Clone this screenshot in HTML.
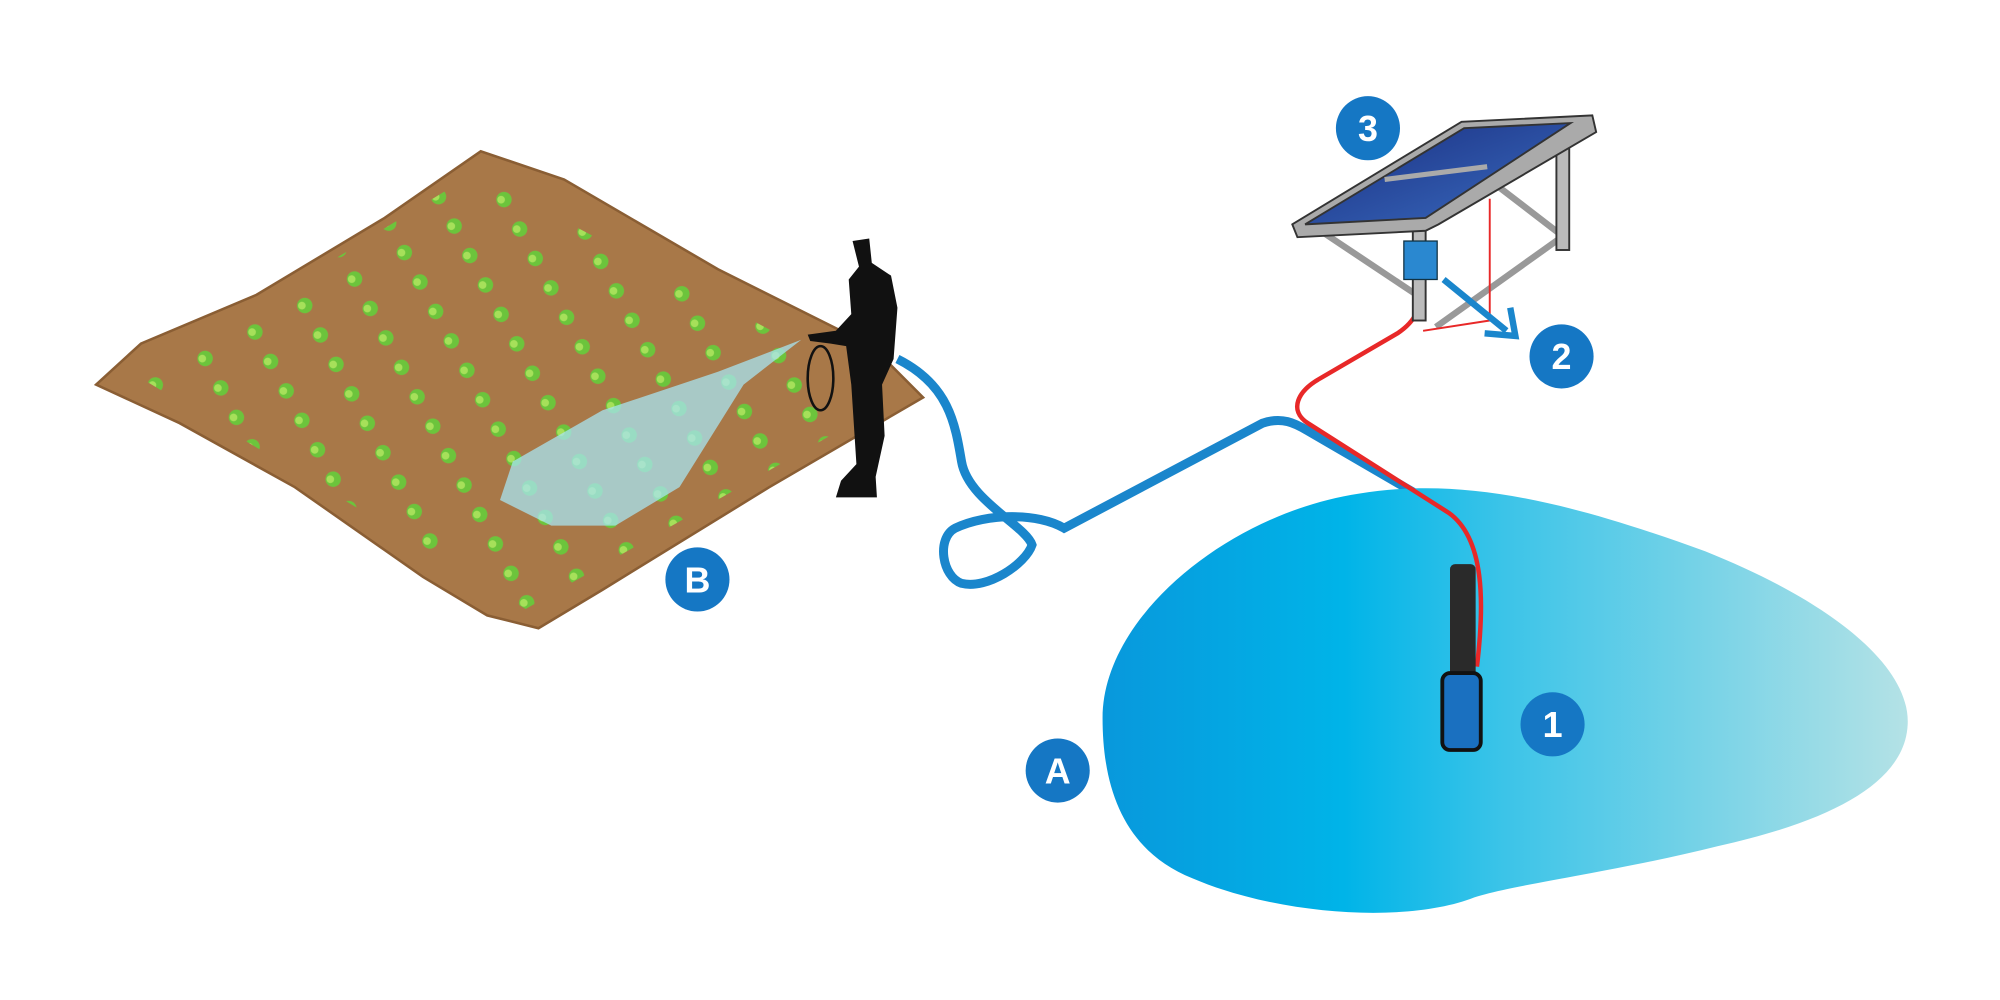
<!DOCTYPE html>
<html><head><meta charset="utf-8"><style>
html,body{margin:0;padding:0;background:#fff;width:2000px;height:1000px;overflow:hidden}
svg{display:block}
text{font-family:"Liberation Sans",sans-serif;font-weight:bold;fill:#fff;text-anchor:middle}
</style></head><body>
<svg width="2000" height="1000" viewBox="0 0 1560 780" xmlns="http://www.w3.org/2000/svg">
<defs>
<linearGradient id="pond" x1="0" x2="1" y1="0" y2="0">
<stop offset="0" stop-color="#0898dc"/><stop offset="0.3" stop-color="#00b4e8"/>
<stop offset="0.5" stop-color="#3cc4e8"/><stop offset="1" stop-color="#b4e2e6"/></linearGradient>
<linearGradient id="pan" x1="0" x2="1" y1="0" y2="1"><stop offset="0" stop-color="#1a2e80"/><stop offset="1" stop-color="#3a6cc0"/></linearGradient>
<pattern id="plants" x="0" y="0" width="44" height="26" patternUnits="userSpaceOnUse" patternTransform="rotate(-28)">
<circle cx="10" cy="10" r="6" fill="#6cc43c"/><circle cx="8" cy="9" r="3" fill="#a6e05a"/></pattern>
</defs>
<!-- field -->
<path d="M75,300 L110,268 L200,230 L300,170 L375,118 L440,140 L560,210 L680,270 L720,310 L600,380 L470,460 L420,490 L380,480 L330,450 L230,380 L140,330 Z" fill="#a87848" stroke="#8a5e34" stroke-width="2"/>
<path d="M110,295 L370,135 L700,310 L410,475 Z" fill="url(#plants)"/>
<!-- spray -->
<path d="M625,265 L560,290 L470,320 L400,360 L390,390 L430,410 L480,410 L530,380 L580,300 Z" fill="#a8e4f0" opacity="0.75"/>
<!-- hose -->
<path d="M700,280 C740,300 745,330 750,360 C755,390 800,410 805,425 C800,440 770,460 750,455 C735,450 730,420 745,412 C770,400 810,400 830,412 L985,330 C1000,325 1010,330 1020,336 L1130,400 C1140,410 1142,425 1140,445" fill="none" stroke="#1a86cc" stroke-width="7"/>
<!-- pond -->
<path d="M860,560 C860,480 960,400 1060,385 C1140,372 1220,390 1330,430 C1430,470 1490,520 1488,565 C1486,610 1430,640 1340,660 C1260,680 1180,690 1150,700 C1100,720 1000,715 930,685 C880,665 860,620 860,560 Z" fill="url(#pond)"/>
<!-- red wire -->
<path d="M1152,520 C1158,470 1158,420 1130,400 L1020,330 C1005,320 1012,305 1030,295 L1090,260 C1105,250 1108,240 1108,225" fill="none" stroke="#e82828" stroke-width="3.5"/>
<!-- pump -->
<rect x="1131" y="440" width="20" height="90" rx="4" fill="#2a2a2a"/>
<rect x="1125" y="525" width="30" height="60" rx="6" fill="#1a70c0" stroke="#111" stroke-width="3"/>
<!-- solar frame -->
<g stroke="#333" stroke-width="1.5">
<path d="M1030,180 L1105,230 M1120,255 L1218,185 M1168,145 L1220,185" stroke="#999" stroke-width="5"/>
<rect x="1214" y="100" width="10" height="95" fill="#bbb"/>
<rect x="1102" y="170" width="10" height="80" fill="#bbb"/>
<path d="M1008,175 L1140,95 L1242,90 L1245,103 L1122,175 L1112,180 L1012,185 Z" fill="#aaa"/>
<path d="M1018,175 L1142,100 L1225,96 L1112,170 Z" fill="url(#pan)"/>
<path d="M1080,140 L1160,130" stroke="#aaa" stroke-width="4"/>
</g>
<path d="M1162,155 L1162,250 L1110,258" fill="none" stroke="#e82828" stroke-width="1.5"/>
<rect x="1095" y="188" width="26" height="30" fill="#2a88d0" stroke="#134" stroke-width="1"/>
<path d="M1126,218 L1175,258" stroke="#1a86cc" stroke-width="5"/>
<path d="M1158,260 L1182,262 L1178,240" fill="none" stroke="#1a86cc" stroke-width="5"/>
<!-- man -->
<path d="M665,188 L678,186 L680,205 L695,215 L700,240 L697,280 L688,300 L690,340 L683,372 L684,388 L652,388 L656,375 L668,362 L664,300 L660,270 L648,268 L632,266 L630,261 L652,258 L664,245 L662,218 L670,208 Z" fill="#111"/>
<ellipse cx="640" cy="295" rx="10" ry="25" fill="none" stroke="#111" stroke-width="2"/>
<!-- labels -->
<g fill="#1577c4">
<circle cx="1067" cy="100" r="25"/><circle cx="1218" cy="278" r="25"/>
<circle cx="1211" cy="565" r="25"/><circle cx="825" cy="601" r="25"/>
<circle cx="544" cy="452" r="25"/></g>
<text x="1067" y="110" font-size="28">3</text>
<text x="1218" y="288" font-size="28">2</text>
<text x="1211" y="575" font-size="28">1</text>
<text x="825" y="611" font-size="28">A</text>
<text x="544" y="462" font-size="28">B</text>
</svg>
</body></html>
